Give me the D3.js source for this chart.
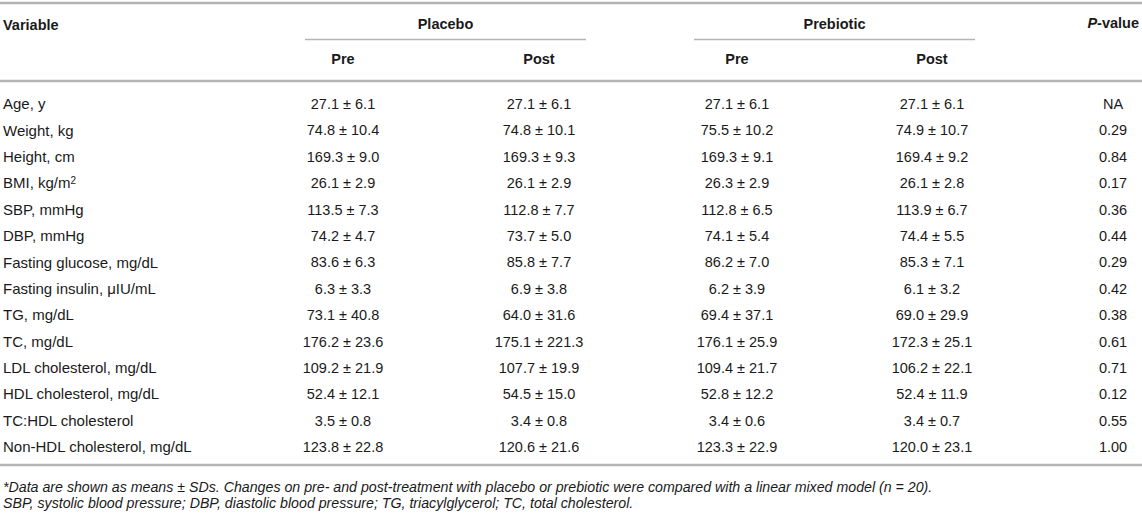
<!DOCTYPE html>
<html>
<head>
<meta charset="utf-8">
<script src="https://cdn.jsdelivr.net/npm/d3@7"></script>
<style>
  body { margin: 0; background: #fff; }
  svg text { font-family: "Liberation Sans", Arial, sans-serif; fill: #1a1a1a; }
</style>
</head>
<body>
<div id="chart"></div>
<script>
// table rows
var variables = [
  "Age, y", "Weight, kg", "Height, cm", "BMI, kg/m|2", "SBP, mmHg", "DBP, mmHg",
  "Fasting glucose, mg/dL", "Fasting insulin, \u03bcIU/mL", "TG, mg/dL", "TC, mg/dL",
  "LDL cholesterol, mg/dL", "HDL cholesterol, mg/dL", "TC:HDL cholesterol",
  "Non-HDL cholesterol, mg/dL"
];
// [mean, sd]
var placeboPre = [[27.1,6.1],[74.8,10.4],[169.3,9.0],[26.1,2.9],[113.5,7.3],[74.2,4.7],
  [83.6,6.3],[6.3,3.3],[73.1,40.8],[176.2,23.6],[109.2,21.9],[52.4,12.1],[3.5,0.8],[123.8,22.8]];
var placeboPost = [[27.1,6.1],[74.8,10.1],[169.3,9.3],[26.1,2.9],[112.8,7.7],[73.7,5.0],
  [85.8,7.7],[6.9,3.8],[64.0,31.6],[175.1,221.3],[107.7,19.9],[54.5,15.0],[3.4,0.8],[120.6,21.6]];
var prebioticPre = [[27.1,6.1],[75.5,10.2],[169.3,9.1],[26.3,2.9],[112.8,6.5],[74.1,5.4],
  [86.2,7.0],[6.2,3.9],[69.4,37.1],[176.1,25.9],[109.4,21.7],[52.8,12.2],[3.4,0.6],[123.3,22.9]];
var prebioticPost = [[27.1,6.1],[74.9,10.7],[169.4,9.2],[26.1,2.8],[113.9,6.7],[74.4,5.5],
  [85.3,7.1],[6.1,3.2],[69.0,29.9],[172.3,25.1],[106.2,22.1],[52.4,11.9],[3.4,0.7],[120.0,23.1]];
var pValues = [null,0.29,0.84,0.17,0.36,0.44,0.29,0.42,0.38,0.61,0.71,0.12,0.55,1.00];

var groups = ["Placebo", "Prebiotic"];
var phases = ["Pre", "Post"];
var footnotes = [
  "*Data are shown as means \u00b1 SDs. Changes on pre- and post-treatment with placebo or prebiotic were compared with a linear mixed model (n = 20).",
  "SBP, systolic blood pressure; DBP, diastolic blood pressure; TG, triacylglycerol; TC, total cholesterol."
];

var width = 1142, height = 515;
var svg = d3.select("#chart").append("svg")
    .attr("width", width).attr("height", height);

var lineColor = "#b4b4b4";
var fmt1 = d3.format(".1f"), fmt2 = d3.format(".2f");

// row positions
var y = d3.scaleLinear().domain([0, variables.length - 1]).range([104, 447]);

// column centres
var colX = d3.scaleOrdinal()
    .domain(["Placebo-Pre", "Placebo-Post", "Prebiotic-Pre", "Prebiotic-Post"])
    .range([343, 539, 737, 932]);
var groupSpan = d3.scaleOrdinal().domain(groups).range([[305, 586], [694, 975]]);
var pX = 1113;

function hline(x1, x2, yy, w) {
  svg.append("line").attr("x1", x1).attr("x2", x2).attr("y1", yy).attr("y2", yy)
    .attr("stroke", lineColor).attr("stroke-width", w);
}

hline(0, width, 3, 2.5);
hline(0, width, 81, 2.5);
hline(0, width, 465, 2.5);
groups.forEach(function(g) {
  var s = groupSpan(g);
  hline(s[0], s[1], 39.5, 1.5);
});

// header
var head = svg.append("g").attr("font-weight", "bold").attr("font-size", "14.5px");
head.append("text").attr("x", 3).attr("y", 25).attr("dy", "0.35em").text("Variable");
groups.forEach(function(g) {
  var s = groupSpan(g);
  head.append("text").attr("x", (s[0] + s[1]) / 2).attr("y", 24).attr("dy", "0.35em")
    .attr("text-anchor", "middle").text(g);
  phases.forEach(function(p) {
    head.append("text").attr("x", colX(g + "-" + p)).attr("y", 59).attr("dy", "0.35em")
      .attr("text-anchor", "middle").text(p);
  });
});
var ph = head.append("text").attr("x", 1139).attr("y", 23).attr("dy", "0.35em")
  .attr("text-anchor", "end");
ph.append("tspan").attr("font-style", "italic").text("P");
ph.append("tspan").text("-value");

// body
var body = svg.append("g").attr("font-size", "14.5px");
var rows = body.selectAll("g.row").data(variables).join("g").attr("class", "row")
  .attr("transform", function(d, i) { return "translate(0," + y(i) + ")"; });

rows.append("text").attr("x", 3).attr("dy", "0.35em").attr("font-size", "15px").each(function(d) {
  var parts = d.split("|");
  var t = d3.select(this);
  t.append("tspan").text(parts[0]);
  if (parts[1]) t.append("tspan").attr("dy", "-0.45em").attr("font-size", "10px").text(parts[1]);
});

var series = [
  ["Placebo-Pre", placeboPre], ["Placebo-Post", placeboPost],
  ["Prebiotic-Pre", prebioticPre], ["Prebiotic-Post", prebioticPost]
];
series.forEach(function(s) {
  rows.append("text").attr("x", colX(s[0])).attr("dy", "0.35em").attr("text-anchor", "middle")
    .text(function(d, i) { var v = s[1][i]; return fmt1(v[0]) + " \u00b1 " + fmt1(v[1]); });
});
rows.append("text").attr("x", pX).attr("dy", "0.35em").attr("text-anchor", "middle")
  .text(function(d, i) { return pValues[i] == null ? "NA" : fmt2(pValues[i]); });

// footnotes
svg.append("g").attr("font-size", "14.2px").attr("font-style", "italic")
  .selectAll("text").data(footnotes).join("text")
  .attr("x", 3).attr("y", function(d, i) { return 487 + i * 16; }).attr("dy", "0.35em")
  .text(function(d) { return d; });
</script>
</body>
</html>
